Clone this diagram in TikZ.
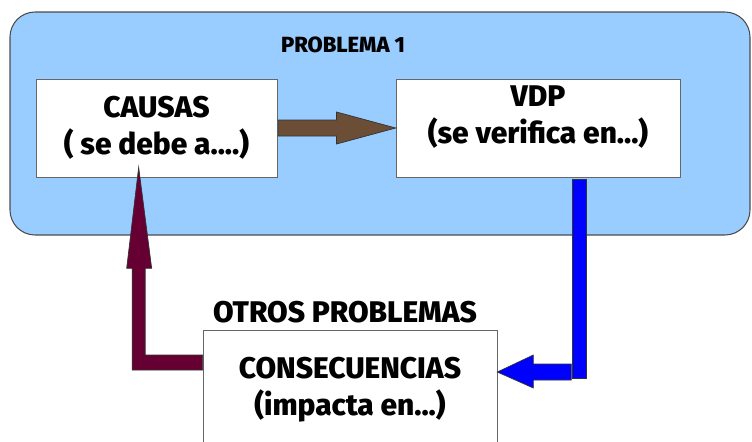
\documentclass[tikz,border=0pt]{standalone}
\usepackage{fontspec}
\setmainfont{Fira Sans}[BoldFont={Fira Sans ExtraBold}]
\usepackage{tikz}
\usetikzlibrary{calc,positioning}

\definecolor{PanelBlue}{RGB}{153,204,255}
\definecolor{BarkBrown}{RGB}{108,78,54}
\definecolor{Wine}{RGB}{102,0,51}
\definecolor{PureBlue}{RGB}{0,0,255}

\begin{document}
\begin{tikzpicture}[x=0.02cm,y=-0.02cm]

  % Parameters
  \def\hbx{1.96cm}

  % Styles
  \tikzstyle{panel}=[draw=black!70,fill=PanelBlue,rounded corners=0.5cm,line width=0.6pt]
  \tikzstyle{box}=[draw=black!60,fill=white,align=center,inner sep=0pt,font=\bfseries\fontsize{17}{21}\selectfont]
  \tikzstyle{title}=[inner sep=0pt,font=\bfseries\fontsize{17}{21}\selectfont]
  \tikzstyle{blockarrow}=[draw=black!80,line width=0.4pt]

  \useasboundingbox (0,0) rectangle (752,441);

  % Draw panel
  \draw[panel] (10,12) rectangle (750,235);
  \node[title,font=\bfseries\fontsize{12.5}{15}\selectfont] (prob) at (343,45) {PROBLEMA 1};

  % Draw boxes
  \node[box,minimum width=4.82cm,minimum height=\hbx] (causas) at (156.5,128) {CAUSAS\\( se debe a....)};
  \node[box,minimum width=5.68cm,minimum height=\hbx] (vdp) at (538,128) {VDP\\(se verifica en...)\\[-6pt]};
  \node[title] (otros) at (345,312) {OTROS PROBLEMAS};
  \node[box,anchor=north,minimum width=5.88cm,minimum height=2.36cm] (cons) at (350,330) {CONSECUENCIAS\\(impacta en...)};

  % Brown arrow: causas -> vdp
  \coordinate (bmid) at ($(causas.east)!0.5!(vdp.west)$);
  \filldraw[blockarrow,fill=BarkBrown] ($(causas.east)+(1,-8)$) -- ($(bmid)+(0,-8)$) -- ($(bmid)+(0,-16)$)
    -- (vdp.west) -- ($(bmid)+(0,16)$) -- ($(bmid)+(0,8)$) -- ($(causas.east)+(1,8)$) -- cycle;

  % Blue arrow: vdp -> cons
  \coordinate (vtop) at ($(vdp.south west)+(177,2)$);
  \coordinate (btip) at ($(cons.north east)+(0,42)$);
  \filldraw[blockarrow,fill=PureBlue] (vtop) rectangle ++(14,199);
  \filldraw[blockarrow,fill=PureBlue] (btip) -- ++(36,-17) -- ++(0,9) -- ++(38,0) -- ++(0,16)
    -- ++(-38,0) -- ++(0,8) -- cycle;

  % Wine arrow: cons -> causas
  \coordinate (mstart) at ($(cons.north west)+(0,32.5)$);
  \coordinate (mtip) at ($(causas.south west)+(103,-10)$);
  \coordinate (mcorner) at (mtip |- mstart);
  \filldraw[blockarrow,fill=Wine] ($(mstart)+(0,-7.5)$) -- ($(mcorner)+(6.5,-7.5)$) -- ($(mtip)+(6.5,101)$)
    -- ($(mtip)+(13,101)$) -- (mtip) -- ($(mtip)+(-12,101)$) -- ($(mtip)+(-6.5,101)$)
    -- ($(mcorner)+(-6.5,7.5)$) -- ($(mstart)+(0,7.5)$) -- cycle;

\end{tikzpicture}
\end{document}
